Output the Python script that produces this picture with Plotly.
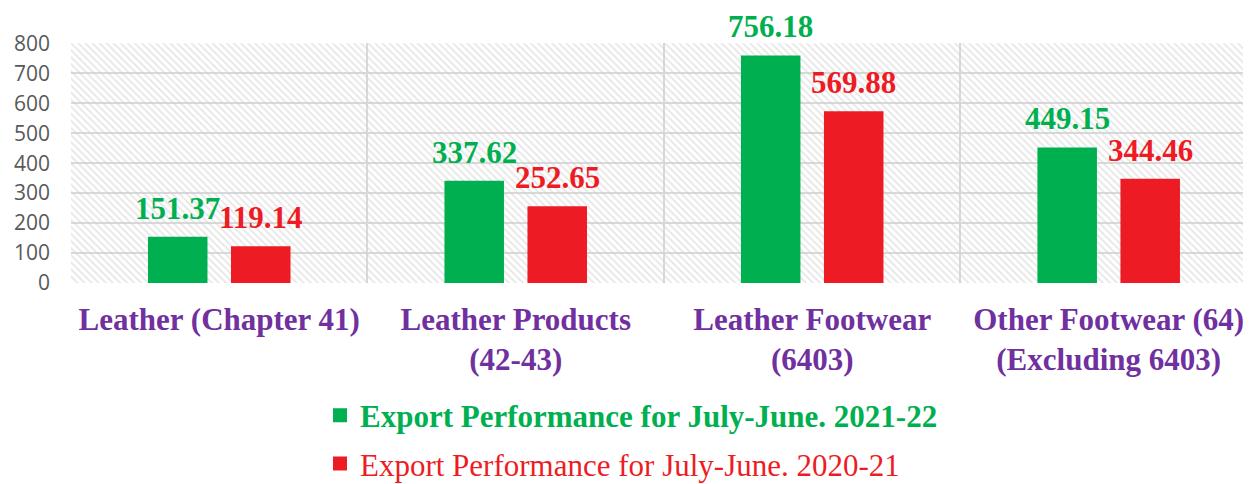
import plotly.graph_objects as go

# ---- data ----
categories = [
    "Leather (Chapter 41)",
    "Leather Products<br>(42-43)",
    "Leather Footwear<br>(6403)",
    "Other Footwear (64)<br>(Excluding 6403)",
]
export_2021_22 = [151.37, 337.62, 756.18, 449.15]
export_2020_21 = [119.14, 252.65, 569.88, 344.46]
series_names = [
    "Export Performance for July-June. 2021-22",
    "Export Performance for July-June. 2020-21",
]
y_tick_values = [0, 100, 200, 300, 400, 500, 600, 700, 800]
Y_MAX = 800

# ---- style ----
GREEN = "#00B050"
RED = "#ED1C24"
PURPLE = "#7030A0"
GRID = "#d9d9d9"
SERIF = "Liberation Serif, Times New Roman, serif"
BAR_W = 0.194
OFFSETS = [-0.237, 0.043]

xpos = list(range(len(categories)))

fig = go.Figure()

# hatched plot-area background
fig.add_trace(go.Bar(
    x=xpos, y=[Y_MAX] * len(xpos), width=1, offset=-0.5,
    marker=dict(color="rgba(0,0,0,0)", line_width=0,
                pattern=dict(shape="\\", fgcolor="#cfcfcf", bgcolor="rgba(0,0,0,0)",
                             size=5, solidity=0.35, fillmode="overlay")),
    showlegend=False, hoverinfo="skip",
))

series = [export_2021_22, export_2020_21]
colors = [GREEN, RED]
weights = ["bold", "normal"]
for k, (vals, col, name, w) in enumerate(zip(series, colors, series_names, weights)):
    label = f"<b>{name}</b>" if w == "bold" else name
    fig.add_trace(go.Bar(
        x=xpos, y=vals, width=BAR_W, offset=OFFSETS[k],
        marker=dict(color=col, line=dict(color=col, width=2)),
        name=f"<span style='color:{col}'>{label}</span>",
        legendgroup=f"g{k}",
    ))
    for i, v in enumerate(vals):
        fig.add_annotation(
            x=i + OFFSETS[k] + BAR_W / 2, y=v, text=f"{v:.2f}",
            showarrow=False, yanchor="bottom", yshift=10,
            font=dict(family=SERIF, size=31, color=col, weight="bold"),
        )

# page body has an 8px margin; the figure is sized to fit the 1251x484 window
fig.update_layout(
    width=1243, height=476,
    margin=dict(l=63, r=0, t=35, b=201, autoexpand=False),
    barmode="overlay",
    plot_bgcolor="white", paper_bgcolor="white",
    showlegend=True,
    legend=dict(
        orientation="v", x=(312 - 63) / 1180, xanchor="left",
        y=-0.44, yanchor="top",
        font=dict(family=SERIF, size=31),
        traceorder="grouped", tracegroupgap=5,
        bgcolor="rgba(0,0,0,0)",
    ),
    xaxis=dict(
        type="linear", range=[-0.5, 3.48], automargin=False,
        tickmode="array", tickvals=xpos, ticktext=categories,
        showgrid=False, zeroline=False, ticks="",
        showline=False,
        tickfont=dict(family=SERIF, size=31, color=PURPLE, weight="bold"),
        ticklabelstandoff=15,
        minor=dict(tickmode="array", tickvals=[-0.5, 0.5, 1.5, 2.5, 3.5],
                   showgrid=True, gridcolor=GRID, gridwidth=2, ticks=""),
    ),
    yaxis=dict(
        range=[0, 801], tickmode="array", tickvals=y_tick_values, automargin=False,
        showgrid=True, gridcolor=GRID, gridwidth=2,
        zeroline=False, ticks="", showline=False,
        tickfont=dict(family="Open Sans, Liberation Sans, sans-serif", size=21, color="#595959"),
        ticklabelstandoff=20,
    ),
)

fig.write_html("out.html")
